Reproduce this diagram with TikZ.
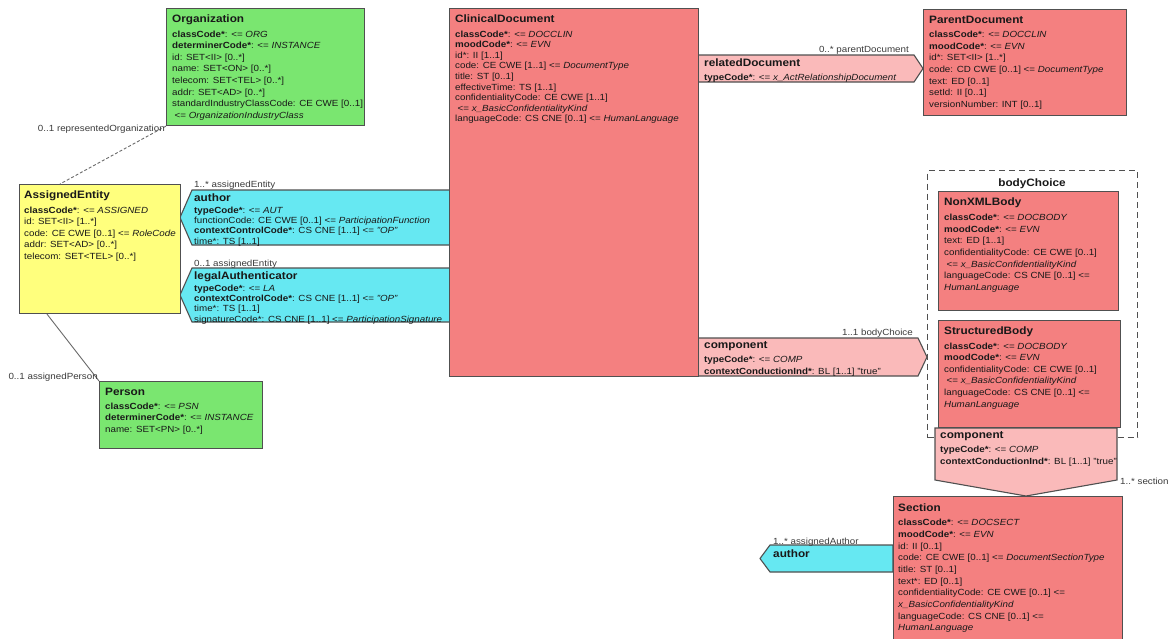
\documentclass[tikz,border=0pt]{standalone}
\usepackage{fontspec}
\setmainfont{Liberation Sans}[FakeStretch=1.1]
\usetikzlibrary{calc}
\definecolor{actred}{RGB}{244,128,128}
\definecolor{relpink}{RGB}{250,186,186}
\definecolor{partcyan}{RGB}{102,232,242}
\definecolor{roleyel}{RGB}{255,255,125}
\definecolor{entgreen}{RGB}{122,230,112}
\definecolor{edgecol}{RGB}{80,80,80}
\definecolor{txtcol}{RGB}{25,25,25}
\definecolor{lblcol}{RGB}{60,60,60}
\newcommand\B[1]{\textbf{#1}}
\newcommand\I[1]{\textit{#1}}
\begin{document}
\begin{tikzpicture}[x=1pt,y=-1pt,
  clsbox/.style={draw=edgecol, line width=1.1pt, inner sep=0pt, anchor=north west},
  relshape/.style={draw=edgecol, line width=1.1pt, fill=relpink},
  partshape/.style={draw=edgecol, line width=1.1pt, fill=partcyan},
  ttl/.style={font=\fontsize{10.7}{12}\selectfont\bfseries, text=txtcol, inner sep=0pt, anchor=base west},
  bdy/.style={font=\fontsize{8.9}{11.6}\selectfont, text=txtcol, inner sep=0pt, anchor=north west, yshift=5.5pt, align=left, execute at begin node={\rule{0pt}{8pt}}},
  cdbdy/.style={bdy, font=\fontsize{8.9}{10.6}\selectfont},
  secbdy/.style={bdy, font=\fontsize{8.9}{11.7}\selectfont},
  pbdy/.style={bdy, font=\fontsize{8.9}{10.3}\selectfont},
  rbdy/.style={bdy, font=\fontsize{8.9}{12.3}\selectfont},
  lab/.style={font=\fontsize{8.9}{10}\selectfont, text=lblcol, inner sep=0pt},
  conn/.style={draw=edgecol!85, line width=0.9pt},
]
\fill[white] (0,0) rectangle (1170,638);
\useasboundingbox (0,0) rectangle (1170,638);

% ---------- participations (cyan) ----------
\coordinate (auP) at (180,217.5);
\draw[partshape] (auP) -- (192,190) -- (450,190) -- (450,245) -- (192,245) -- cycle;
\node[ttl] (auT) at (194,201.5) {author};
\node[pbdy] (auB) at (194,212) {\B{typeCode*}: <= \I{AUT}\\ functionCode: CE CWE [0..1] <= \I{ParticipationFunction}\\ \B{contextControlCode*}: CS CNE [1..1] <= \I{"OP"}\\ time*: TS [1..1]};
\node[lab, anchor=base west] (auL) at (194,187) {1..* assignedEntity};

\coordinate (laP) at (180,295);
\draw[partshape] (laP) -- (192,268) -- (450,268) -- (450,322) -- (192,322) -- cycle;
\node[ttl] (laT) at (194,279) {legalAuthenticator};
\node[pbdy] (laB) at (194,290) {\B{typeCode*}: <= \I{LA}\\ \B{contextControlCode*}: CS CNE [1..1] <= \I{"OP"}\\ time*: TS [1..1]\\ signatureCode*: CS CNE [1..1] <= \I{ParticipationSignature}};
\node[lab, anchor=base west] (laL) at (194,266) {0..1 assignedEntity};

% ---------- act relationships (pink) ----------
\draw[relshape] (698,55) -- (914,55) -- (923,68.5) -- (914,82) -- (698,82) -- cycle;
\node[ttl] (rdT) at (704,66) {relatedDocument};
\node[rbdy] (rdB) at (704,78) {\B{typeCode*}: <= \I{x\_ActRelationshipDocument}};
\node[lab, anchor=base east] (rdL) at (909,52) {0..* parentDocument};

\draw[relshape] (698,338) -- (918,338) -- (927,357) -- (918,376) -- (698,376) -- cycle;
\node[ttl] (c1T) at (704,348) {component};
\node[rbdy] (c1B) at (704,361) {\B{typeCode*}: <= \I{COMP}\\ \B{contextConductionInd*}: BL [1..1] "true"};
\node[lab, anchor=base east] (c1L) at (913,335) {1..1 bodyChoice};

% ---------- classes ----------
\node[clsbox, fill=entgreen, minimum width=198pt, minimum height=117pt] (org) at (166,8) {};
\node[ttl] (orgT) at (172,22) {Organization};
\node[bdy] (orgB) at (172,36) {\B{classCode*}: <= \I{ORG}\\ \B{determinerCode*}: <= \I{INSTANCE}\\ id: SET<II> [0..*]\\ name: SET<ON> [0..*]\\ telecom: SET<TEL> [0..*]\\ addr: SET<AD> [0..*]\\ standardIndustryClassCode: CE CWE [0..1]\\ \hspace*{2.5pt}<= \I{OrganizationIndustryClass}};

\node[clsbox, fill=roleyel, minimum width=161pt, minimum height=129pt] (ae) at (19,184) {};
\node[ttl] (aeT) at (24,198.5) {AssignedEntity};
\node[bdy] (aeB) at (24,212) {\B{classCode*}: <= \I{ASSIGNED}\\ id: SET<II> [1..*]\\ code: CE CWE [0..1] <= \I{RoleCode}\\ addr: SET<AD> [0..*]\\ telecom: SET<TEL> [0..*]};

\node[clsbox, fill=entgreen, minimum width=163pt, minimum height=67pt] (per) at (99,381) {};
\node[ttl] (perT) at (105,395.5) {Person};
\node[bdy] (perB) at (105,408) {\B{classCode*}: <= \I{PSN}\\ \B{determinerCode*}: <= \I{INSTANCE}\\ name: SET<PN> [0..*]};

\node[clsbox, fill=actred, minimum width=249pt, minimum height=368pt] (cd) at (449,8) {};
\node[ttl] (cdT) at (455,22) {ClinicalDocument};
\node[cdbdy] (cdB) at (455,36) {\B{classCode*}: <= \I{DOCCLIN}\\ \B{moodCode*}: <= \I{EVN}\\ id*: II [1..1]\\ code: CE CWE [1..1] <= \I{DocumentType}\\ title: ST [0..1]\\ effectiveTime: TS [1..1]\\ confidentialityCode: CE CWE [1..1]\\ \hspace*{2.5pt}<= \I{x\_BasicConfidentialityKind}\\ languageCode: CS CNE [0..1] <= \I{HumanLanguage}};

\node[clsbox, fill=actred, minimum width=203pt, minimum height=106pt] (pd) at (923,9) {};
\node[ttl] (pdT) at (929,23) {ParentDocument};
\node[bdy] (pdB) at (929,36.5) {\B{classCode*}: <= \I{DOCCLIN}\\ \B{moodCode*}: <= \I{EVN}\\ id*: SET<II> [1..*]\\ code: CD CWE [0..1] <= \I{DocumentType}\\ text: ED [0..1]\\ setId: II [0..1]\\ versionNumber: INT [0..1]};

% bodyChoice
\node[draw=edgecol, line width=1.1pt, dash pattern=on 6pt off 4pt, inner sep=0pt, anchor=north west, minimum width=210pt, minimum height=267pt] (bc) at (927,170) {};
\node[ttl, anchor=base] (bcT) at (1032,186) {bodyChoice};

\node[clsbox, fill=actred, minimum width=180pt, minimum height=119pt] (nx) at (938,191) {};
\node[ttl] (nxT) at (944,205.5) {NonXMLBody};
\node[bdy] (nxB) at (944,219.5) {\B{classCode*}: <= \I{DOCBODY}\\ \B{moodCode*}: <= \I{EVN}\\ text: ED [1..1]\\ confidentialityCode: CE CWE [0..1]\\ \hspace*{2.5pt}<= \I{x\_BasicConfidentialityKind}\\ languageCode: CS CNE [0..1] <=\\ \I{HumanLanguage}};

\node[clsbox, fill=actred, minimum width=182pt, minimum height=107pt] (sb) at (938,320) {};
\node[ttl] (sbT) at (944,334) {StructuredBody};
\node[bdy] (sbB) at (944,348) {\B{classCode*}: <= \I{DOCBODY}\\ \B{moodCode*}: <= \I{EVN}\\ confidentialityCode: CE CWE [0..1]\\ \hspace*{2.5pt}<= \I{x\_BasicConfidentialityKind}\\ languageCode: CS CNE [0..1] <=\\ \I{HumanLanguage}};

% component (downward)
\draw[relshape] (935,428) -- (1117,428) -- (1117,480) -- (1026,496) -- (935,480) -- cycle;
\node[ttl] (c2T) at (940,438) {component};
\node[secbdy] (c2B) at (940,451.5) {\B{typeCode*}: <= \I{COMP}\\ \B{contextConductionInd*}: BL [1..1] "true"};
\node[lab, anchor=base west] (c2L) at (1120,484) {1..* section};

% Section author (cyan, left)
\draw[partshape] (760,558.5) -- (770,545) -- (893,545) -- (893,572) -- (770,572) -- cycle;
\node[ttl] (sauT) at (773,557.5) {author};
\node[lab, anchor=base west] (sauL) at (773,544) {1..* assignedAuthor};

\node[clsbox, fill=actred, minimum width=229pt, minimum height=145pt] (sec) at (893,496) {};
\node[ttl] (secT) at (898,511) {Section};
\node[secbdy] (secB) at (898,524.5) {\B{classCode*}: <= \I{DOCSECT}\\ \B{moodCode*}: <= \I{EVN}\\ id: II [0..1]\\ code: CE CWE [0..1] <= \I{DocumentSectionType}\\ title: ST [0..1]\\ text*: ED [0..1]\\ confidentialityCode: CE CWE [0..1] <=\\ \I{x\_BasicConfidentialityKind}\\ languageCode: CS CNE [0..1] <=\\ \I{HumanLanguage}};

% ---------- connectors ----------
\draw[conn, dash pattern=on 3pt off 2pt] (org.south west) -- ([xshift=41pt]ae.north west);
\node[lab, anchor=base east] (orgL) at (165,131) {0..1 representedOrganization};
\draw[conn] ([xshift=28pt]ae.south west) -- (per.north west);
\node[lab, anchor=base east] (perL) at (98,379) {0..1 assignedPerson};
\end{tikzpicture}
\end{document}
